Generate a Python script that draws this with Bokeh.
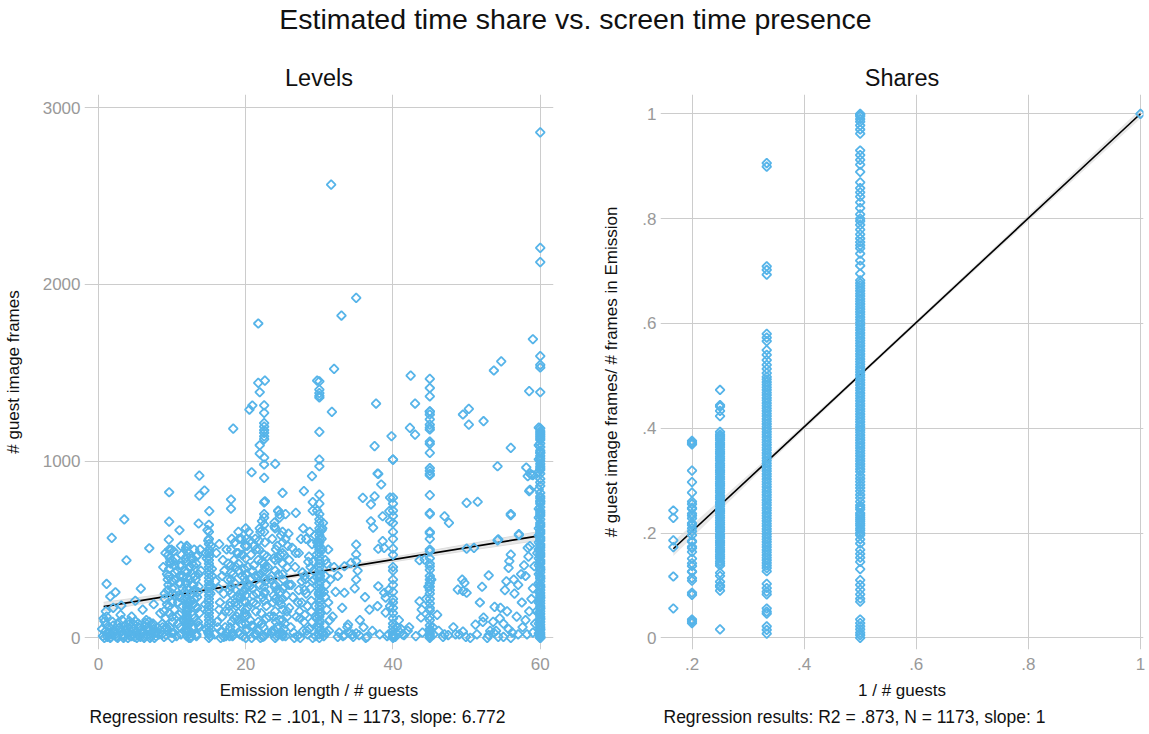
import math
from bokeh.plotting import figure
from bokeh.layouts import column, row
from bokeh.models import Div, FixedTicker, Title, Range1d, CustomJSTickFormatter
from bokeh.embed import file_html
from bokeh.resources import INLINE

# ---------------- data: Levels panel (x = emission length / # guests, y = # guest image frames)
lev_sparse_x = [60, 31.6, 60, 60, 35.0, 33.0, 21.7, 59.0, 60, 54.7, 60, 60, 53.7, 32.0, 42.4, 21.7, 22.6, 29.7, 58.5,
                20.5, 20.9, 21.9, 22.5, 22.5, 22.5, 22.5, 22.5, 22.5, 22.5, 22.5, 18.3, 21.9, 21.9, 22.5, 22.5, 24.0,
                20.8, 13.7, 22.5, 22.6, 30, 30, 30, 30, 30, 31.7, 30, 30, 30, 29.0, 30,
                37.7, 37.5, 38.0, 39.8, 40, 43.0, 42.3, 43.0, 49.5, 50.3, 50.3, 52.3, 54.2, 56.0, 58.1, 58.8, 58.3,
                58.6, 59.0, 58.6, 56.0, 51.5,
                9.6, 13.7, 14.4, 18.0, 18.0, 15.05, 3.5, 9.6, 13.6, 11.0, 1.8, 9.55, 6.9, 3.8, 1.1, 5.75, 1.6, 2.3,
                3.1, 1.0, 0.8,
                25.0, 27.9, 22.5, 26.8, 29.1, 29.1, 24.4, 23.9, 24.6,
                35.9, 37.5, 38.4, 37.9, 37.0, 37.0, 37.3, 38.6, 39.5, 39.6, 39.6, 35.0, 35.0, 35.0, 33.4, 34.3, 35.0,
                33.4, 38.6, 38.8, 38.0, 38.0, 38.8, 39.0, 39.4, 37.9, 39.0, 39.6, 33.9, 35.5, 35.0, 33.4, 32.5,
                47.0, 47.6, 50.0, 56.0, 58.5, 54.2, 57.1, 50.0, 51.0, 44.3, 43.6, 58.3, 56.0, 55.8, 55.7, 53.0, 52.1,
                48.8, 49.5, 50.0, 49.7, 49.4, 43.6, 43.9, 43.8, 51.2, 52.3, 53.2, 53.6, 54.6, 53.8, 54.5, 55.7, 47.0,
                48.5, 49.5, 49.9, 52.8, 53.7, 54.3, 55.0, 56.5, 57.0, 57.5, 58.0, 58.5, 59.0, 59.2, 57.1, 58.6, 54.3,
                56.8, 57.6, 58.2, 59.3, 56.2, 55.5, 56.4, 57.8, 58.8, 55.2, 40.5, 41.0, 41.5, 42.0, 40.8, 39.4, 41.1,
                31.3, 31.8, 32.2, 32.7, 33.1, 31.5, 32.0, 33.8, 31.2, 32.5, 34.5, 36.5, 36.0, 34.8, 35.2, 36.8, 36.2]
lev_sparse_y = [2861, 2565, 2207, 2126, 1924, 1824, 1779, 1690, 1594, 1565, 1545, 1530, 1513, 1522, 1484, 1443, 1456, 1456, 1396,
                1292, 1315, 1390, 1316, 1273, 1215, 1195, 1175, 1160, 1140, 1125, 1184, 1090, 1043, 1020, 981, 985,
                937, 918, 905, 773, 1452, 1405, 1385, 1370, 1360, 1279, 1166, 1009, 971, 915, 811,
                1326, 1085, 928, 1141, 1009, 1326, 1188, 1150, 1264, 1296, 1207, 1226, 971, 1075, 964, 924, 915,
                930, 920, 838, 701, 770,
                824, 805, 834, 783, 731, 717, 670, 658, 647, 609, 566, 556, 507, 439, 305, 279, 234, 258,
                183, 150, 94,
                820, 830, 767, 707, 768, 720, 717, 652, 698,
                792, 801, 868, 930, 755, 660, 624, 688, 717, 660, 794, 528, 472, 434, 405, 424, 330,
                255, 547, 509, 504, 292, 255, 228, 270, 179, 143, 179, 75, 100, 25, 15, 5,
                688, 651, 764, 694, 830, 552, 581, 505, 509, 443, 439, 509, 471, 434, 396, 353, 289,
                273, 265, 255, 311, 330, 207, 160, 115, 75, 115, 40, 90, 170, 175, 110, 50, 20,
                20, 35, 5, 0, 30, 5, 5, 250, 300, 200, 350, 150, 280, 405, 587, 519, 557,
                120, 60, 20, 80, 30, 150, 330, 410, 220, 270, 60, 30, 15, 40, 100, 20, 50,
                40, 120, 260, 30, 170, 330, 400, 60, 500, 350, 20, 5, 60, 280, 380, 160, 230]

lev_col60_y = [1185, 1170, 1160, 1150, 1140, 1130, 1100, 1080, 1060, 1045, 1030, 1015, 1000, 985, 970, 950, 930, 900,
               860, 820, 800, 790, 775, 760, 740, 720, 700, 690, 670, 650, 630, 610, 590, 570, 550, 530, 510, 495,
               480, 460, 440, 420, 400, 385, 370, 350, 335, 320, 300, 285, 270, 255, 240, 225, 210, 195, 180, 165,
               150, 135, 120, 105, 90, 75, 60, 45, 30, 20, 10, 5, 0, 1390]
lev_col60b_x = [59.8, 60.0] * 20
lev_col60b_y = [1190, 1120, 1090, 1050, 1010, 960, 940, 880, 840, 770, 730, 710, 680, 640, 620, 600, 580, 560, 540, 520,
                500, 470, 450, 430, 410, 390, 360, 340, 310, 290, 260, 230, 200, 170, 140, 110, 80, 50, 25, 0]
lev_col45_y = [1466, 1414, 1367, 1282, 1264, 1236, 1207, 1179, 1098, 1047, 945, 928, 808, 706, 593, 489, 405, 385,
               350, 310, 270, 250, 195, 155, 120, 70, 40, 15, 5, 0,
               1280, 1190, 1110, 960, 920, 700, 600, 560, 500, 450, 420, 330, 290, 220, 170, 100, 50, 25]
lev_col40_y = [1009, 794, 760, 720, 690, 650, 600, 560, 505, 470, 400, 380, 330, 300, 260, 220, 200, 170, 140,
               110, 80, 60, 40, 20, 10, 0]

lev_b0_x = [0.6, 0.9, 1.2, 1.5, 1.8, 2.1, 2.4, 2.7, 3.0, 3.3, 3.6, 3.9, 4.2, 4.5, 4.8, 5.1, 5.4, 5.7, 6.0, 6.3,
            6.6, 6.9, 7.2, 7.5, 7.8, 0.7, 1.0, 1.4, 1.9, 2.3, 2.8, 3.2, 3.7, 4.1, 4.6, 5.0, 5.5, 5.9, 6.4, 6.8,
            7.3, 7.7, 8.0, 1.6, 2.5, 3.4, 4.3, 5.2, 6.1, 7.0]
lev_b0_y = [10, 35, 5, 60, 20, 45, 8, 85, 30, 15, 70, 25, 95, 10, 50, 30, 80, 5, 40, 65,
            15, 90, 25, 50, 10, 110, 75, 30, 90, 20, 55, 100, 40, 75, 20, 95, 55, 25, 85, 45,
            70, 30, 55, 0, 5, 0, 10, 0, 8, 0]
lev_b1_x = [8.6, 8.9, 9.2, 9.5, 9.8, 10.1, 10.4, 10.7, 11.0, 11.3, 8.7, 9.0, 9.3, 9.6, 9.9, 10.2, 10.5, 10.8, 11.1, 11.4,
            8.8, 9.1, 9.4, 9.7, 10.0, 10.3, 10.6, 10.9, 11.2, 9.5, 9.6, 9.7, 9.5, 9.6, 9.4, 10.0, 10.0, 10.0, 10.0, 10.0,
            11.0, 11.0, 11.0, 8.9, 9.2]
lev_b1_y = [20, 150, 60, 300, 420, 90, 240, 380, 130, 470, 80, 220, 360, 180, 500, 30, 330, 200, 60, 280,
            400, 110, 40, 450, 250, 160, 10, 310, 520, 350, 390, 430, 470, 500, 270, 120, 200, 320, 440, 0,
            350, 410, 230, 5, 15]
lev_b2_x = [11.6, 11.9, 12.0, 12.0, 12.0, 12.0, 12.0, 12.0, 12.0, 12.0, 12.0, 12.0, 12.0, 12.0, 12.0, 12.3, 12.6, 12.9, 13.2, 13.5,
            11.7, 12.2, 12.5, 12.8, 13.1, 13.4, 13.7, 12.4, 12.7, 13.0, 13.3, 13.6, 11.8, 12.1, 12.4, 12.7, 13.0, 13.3, 13.6, 12.0,
            12.5, 13.0, 13.5, 11.9, 12.2, 12.6, 12.9, 13.3, 13.7, 12.8, 12.0, 12.0, 12.0, 12.0, 12.0, 12.0, 12.0, 12.0, 12.0, 12.0]
lev_b2_y = [40, 120, 10, 40, 70, 100, 130, 160, 190, 220, 250, 280, 310, 340, 370, 400, 450, 300, 180, 90,
            260, 480, 210, 60, 350, 230, 140, 330, 420, 500, 20, 290, 380, 150, 80, 250, 110, 420, 360, 430,
            0, 270, 470, 310, 200, 30, 190, 10, 60, 360, 460, 490, 520, 25, 55, 85, 115, 145, 175, 205]
lev_b3_x = [15.0] * 30 + [14.6, 14.8, 15.2, 15.4, 14.7, 14.9, 15.3, 14.5, 15.1, 15.4, 14.6, 15.2, 14.8, 15.3, 14.9]
lev_b3_y = [0, 20, 40, 60, 80, 100, 120, 140, 160, 180, 200, 220, 240, 260, 280, 300, 320, 340, 360, 380,
            400, 420, 440, 460, 480, 500, 530, 560, 600, 640, 50, 150, 250, 350, 450, 550, 90, 190, 290, 390,
            480, 10, 610, 520, 30]
lev_b4_x = [15.8, 16.1, 16.4, 16.7, 17.0, 17.3, 15.9, 16.2, 16.5, 16.8, 17.1, 17.4, 16.0, 16.3, 16.6, 16.9, 17.2, 16.4, 16.8, 17.0]
lev_b4_y = [20, 90, 160, 40, 250, 10, 320, 60, 200, 120, 380, 30, 480, 280, 0, 440, 150, 530, 350, 5]
lev_b5_x = [17.6, 17.9, 18.2, 18.5, 18.8, 19.1, 19.4, 19.7, 20.0, 20.3, 17.7, 18.0, 18.3, 18.6, 18.9, 19.2, 19.5, 19.8, 20.1, 20.4,
            17.8, 18.1, 18.4, 18.7, 19.0, 19.3, 19.6, 19.9, 20.2, 20.0, 20.0, 20.0, 20.0, 20.0, 20.0, 20.0, 20.0, 20.0, 20.0, 20.0,
            18.0, 18.0, 18.0, 18.0, 18.0, 19.0, 19.0, 19.0, 19.0, 19.0, 17.8, 18.5, 19.2, 19.8, 20.3, 18.3, 19.5, 20.1, 17.9, 18.8]
lev_b5_y = [420, 200, 30, 310, 120, 560, 80, 260, 0, 400, 150, 500, 360, 60, 230, 20, 470, 340, 130, 600,
            270, 90, 440, 180, 380, 290, 10, 520, 50, 40, 80, 120, 160, 200, 240, 280, 320, 360, 450, 620,
            250, 290, 330, 370, 410, 100, 140, 190, 420, 600, 10, 540, 250, 210, 300, 15, 350, 560, 60, 480]
lev_b6_x = [20.6, 20.9, 21.2, 21.5, 21.8, 22.1, 22.4, 22.7, 20.7, 21.0, 21.3, 21.6, 21.9, 22.2, 22.5, 22.8, 20.8, 21.1, 21.4, 21.7,
            22.0, 22.3, 22.6, 22.9, 22.5, 22.5, 22.5, 22.5, 22.5, 22.5, 22.5, 22.5, 22.5, 22.5, 22.5, 21.0, 21.5, 22.0, 20.9, 21.7,
            22.2, 21.3, 20.6, 22.8, 21.9]
lev_b6_y = [100, 380, 20, 250, 500, 140, 60, 320, 470, 200, 560, 40, 300, 430, 10, 180, 0, 520, 150, 90,
            360, 230, 540, 30, 600, 640, 680, 700, 470, 420, 380, 340, 290, 250, 210, 60, 20, 0, 280, 440,
            660, 350, 550, 110, 620]
lev_b7_x = [23.5, 23.8, 24.1, 24.4, 24.7, 25.0, 25.3, 25.6, 25.9, 23.6, 23.9, 24.2, 24.5, 24.8, 25.1, 25.4, 25.7, 23.7, 24.0, 24.3,
            24.6, 24.9, 25.2, 25.5, 25.8, 24.0, 24.0, 24.0, 24.0, 24.0, 25.0, 25.0, 25.0, 25.0, 25.0, 25.0, 25.0, 25.0, 24.0, 24.0,
            23.6, 24.6, 25.4, 25.9, 24.2, 25.2, 23.9, 24.8, 25.6, 24.4]
lev_b7_y = [350, 120, 500, 20, 260, 600, 80, 400, 170, 560, 290, 60, 450, 190, 330, 10, 520, 200, 380, 520,
            100, 30, 470, 240, 590, 150, 220, 300, 440, 620, 100, 160, 220, 280, 360, 420, 480, 540, 0, 40,
            40, 680, 700, 300, 10, 50, 630, 580, 120, 720]
lev_b8_x = [26.1, 26.4, 26.7, 27.0, 27.3, 27.6, 27.9, 28.2, 28.5, 26.2, 26.5, 26.8, 27.1, 27.4, 27.7, 28.0, 28.3, 26.3, 26.9, 27.5,
            28.1, 26.6, 27.2, 27.8, 28.4]
lev_b8_y = [60, 230, 400, 10, 150, 320, 90, 250, 430, 300, 30, 480, 200, 0, 370, 130, 40, 510, 120, 560,
            330, 0, 270, 620, 180]
lev_b9_x = [30.0] * 35 + [28.6, 28.9, 29.2, 29.5, 29.8, 30.2, 30.5, 30.8, 31.0, 28.7, 29.0, 29.3, 29.6, 29.9, 30.3, 30.6, 30.9,
                          28.8, 29.4, 30.4, 30.7, 29.1, 29.7, 30.1, 30.8]
lev_b9_y = [0, 20, 40, 60, 80, 100, 120, 140, 160, 180, 200, 220, 240, 260, 280, 300, 320, 340, 360, 380,
            400, 420, 440, 460, 480, 500, 520, 540, 560, 580, 600, 620, 650, 700, 760,
            50, 210, 380, 120, 520, 270, 30, 440, 160, 600, 90, 330, 470, 250, 560, 10, 300, 400, 180, 620,
            70, 0, 540, 350, 230]
lev_b10_x = [9.1, 9.4, 9.7, 10.0, 10.3, 10.6, 10.9, 11.2, 11.5, 11.8, 12.1, 12.4, 12.7, 13.0, 13.3, 13.6, 13.9, 9.3, 9.9, 10.5,
             11.1, 11.7, 12.3, 12.9, 13.5, 9.0, 9.6, 10.2, 10.8, 11.4, 12.0, 12.6, 13.2, 13.8, 11.3, 12.2, 12.8, 10.4, 11.9, 13.4]
lev_b10_y = [480, 330, 60, 280, 410, 120, 240, 20, 350, 450, 160, 90, 300, 220, 460, 70, 380, 190, 30, 450,
             310, 100, 0, 410, 260, 250, 140, 490, 80, 180, 150, 10, 330, 500, 410, 40, 130, 370, 510, 170]
lev_b11_x = [17.2, 17.5, 17.8, 18.1, 18.4, 18.7, 19.0, 19.3, 19.6, 19.9, 20.2, 20.5, 20.8, 21.1, 21.4, 21.7, 22.0, 22.3, 22.6, 22.9,
             23.2, 23.5, 23.8, 24.1, 24.4, 24.7, 25.0, 25.3, 25.6, 25.9, 17.4, 18.2, 19.0, 19.8, 20.6, 21.4, 22.2, 23.0, 23.8, 24.6,
             25.4, 18.6, 20.2, 21.8, 23.4, 25.0, 19.4, 21.0, 22.6, 24.2]
lev_b11_y = [60, 330, 180, 560, 110, 400, 30, 230, 470, 140, 520, 290, 70, 410, 190, 350, 600, 5, 260, 460,
             120, 30, 240, 90, 360, 470, 20, 290, 150, 440, 500, 10, 480, 390, 330, 500, 80, 400, 450, 210,
             560, 200, 170, 550, 330, 10, 560, 240, 400, 270]
lev_b12_x = [27.2, 27.6, 28.0, 28.4, 28.8, 29.2, 29.6, 30.0, 30.4, 30.8, 31.2, 27.4, 27.8, 28.2, 28.6, 29.0, 29.4, 29.8, 30.2, 30.6,
             31.0, 31.4, 28.0, 28.9, 29.5, 30.3, 30.9, 29.0, 29.7, 30.5]
lev_b12_y = [480, 200, 350, 20, 280, 430, 110, 670, 500, 350, 200, 110, 40, 560, 460, 320, 580, 60, 140, 260,
             420, 100, 270, 150, 10, 610, 30, 530, 720, 650]
lev_b13_x = [0.5, 0.8, 1.1, 1.3, 1.7, 2.0, 2.2, 2.6, 2.9, 3.1, 3.5, 3.8, 4.0, 4.4, 4.7, 4.9, 5.3, 5.6, 5.8, 6.2,
             6.5, 6.7, 7.1, 7.4, 7.6, 7.9, 8.2, 8.4, 8.7, 3.0, 4.5, 6.0, 7.5, 2.0, 5.0]
lev_b13_y = [50, 0, 120, 20, 5, 70, 30, 0, 60, 40, 10, 50, 0, 35, 80, 5, 15, 55, 30, 0,
             100, 60, 10, 80, 0, 30, 20, 140, 60, 130, 120, 160, 190, 170, 210]
lev_b14_x = [33.2, 34.0, 34.6, 35.4, 36.3, 37.2, 38.2, 39.2, 40.3, 41.3, 42.2, 43.1, 44.0, 45.5, 46.2, 46.8, 47.5, 48.2, 49.0, 50.5,
             51.4, 52.2, 53.0, 54.0, 55.0, 56.0, 57.0, 58.0, 59.0, 59.5, 44.5, 45.2, 45.4, 44.8, 46.0, 51.8, 55.4, 57.4, 58.4, 59.6]
lev_b14_y = [10, 30, 5, 15, 0, 40, 20, 10, 5, 20, 60, 10, 30, 20, 40, 5, 15, 60, 20, 0,
             20, 90, 15, 40, 80, 0, 20, 100, 30, 150, 220, 330, 60, 290, 130, 200, 320, 360, 460, 480]

lev_fit_x = [0.7, 60]
lev_fit_y = [176.7, 578.3]
lev_ci_x = [0.7, 10, 20, 30, 40, 50, 60]
lev_ci_lo = [153, 226, 297, 365, 430, 493, 553]
lev_ci_hi = [201, 254, 317, 385, 456, 529, 603]

# ---------------- data: Shares panel (x = 1 / # guests, y = share of frames)
sh_col6 = [0.243, 0.229, 0.186, 0.173, 0.117, 0.056]
sh_col5 = [0.376, 0.373, 0.369, 0.371, 0.319, 0.297, 0.277, 0.260, 0.255, 0.248, 0.246, 0.237, 0.233, 0.228, 0.219,
           0.215, 0.209, 0.203, 0.196, 0.185, 0.183, 0.174, 0.171, 0.164, 0.151, 0.142, 0.137, 0.127, 0.126, 0.114,
           0.109, 0.086, 0.082, 0.035, 0.032, 0.028]
sh_col4 = [0.473, 0.444, 0.441, 0.433, 0.423, 0.393, 0.388, 0.385, 0.381, 0.377, 0.372, 0.368, 0.364, 0.359, 0.355,
           0.351, 0.346, 0.342, 0.338, 0.333, 0.329, 0.325, 0.320, 0.316, 0.312, 0.307, 0.303, 0.298, 0.294, 0.290,
           0.285, 0.281, 0.277, 0.272, 0.268, 0.264, 0.259, 0.255, 0.251, 0.246, 0.242, 0.238, 0.233, 0.229, 0.224,
           0.220, 0.216, 0.211, 0.207, 0.203, 0.198, 0.194, 0.190, 0.185, 0.181, 0.177, 0.172, 0.168, 0.164, 0.159,
           0.155, 0.151, 0.146, 0.142, 0.138, 0.124, 0.118, 0.107, 0.100, 0.097, 0.090, 0.016]
sh_col3 = [0.906, 0.899, 0.709, 0.702, 0.693, 0.580, 0.573, 0.566, 0.549, 0.540, 0.530, 0.521, 0.513, 0.505, 0.498,
           0.493, 0.488, 0.483, 0.478, 0.473, 0.468, 0.463, 0.458, 0.453, 0.448, 0.443, 0.438, 0.433, 0.428, 0.423,
           0.418, 0.413, 0.408, 0.403, 0.398, 0.393, 0.388, 0.383, 0.378, 0.373, 0.368, 0.363, 0.358, 0.353, 0.348,
           0.343, 0.338, 0.333, 0.328, 0.323, 0.318, 0.313, 0.308, 0.303, 0.298, 0.293, 0.288, 0.283, 0.278, 0.273,
           0.268, 0.263, 0.258, 0.253, 0.248, 0.243, 0.238, 0.233, 0.228, 0.223, 0.218, 0.213, 0.208, 0.203, 0.198,
           0.193, 0.188, 0.183, 0.178, 0.173, 0.168, 0.163, 0.158, 0.153, 0.148, 0.143, 0.138, 0.133, 0.127, 0.103,
           0.095, 0.088, 0.083, 0.056, 0.050, 0.046, 0.022, 0.015, 0.008]
sh_col2 = [1.000, 0.998, 0.995, 0.990, 0.985, 0.978, 0.970, 0.962, 0.930, 0.921, 0.912, 0.903, 0.889, 0.869, 0.858,
           0.850, 0.842, 0.831, 0.820, 0.808, 0.800, 0.795, 0.788, 0.779, 0.770, 0.762, 0.755, 0.749, 0.743, 0.733,
           0.720, 0.710, 0.695, 0.682, 0.677, 0.672, 0.667, 0.662, 0.657, 0.652, 0.647, 0.642, 0.637, 0.632, 0.627,
           0.622, 0.617, 0.612, 0.607, 0.602, 0.597, 0.592, 0.587, 0.582, 0.577, 0.572, 0.567, 0.562, 0.557, 0.552,
           0.547, 0.542, 0.537, 0.532, 0.527, 0.522, 0.517, 0.512, 0.507, 0.502, 0.497, 0.492, 0.487, 0.482, 0.477,
           0.472, 0.467, 0.462, 0.457, 0.452, 0.447, 0.442, 0.437, 0.432, 0.427, 0.422, 0.417, 0.412, 0.407, 0.402,
           0.397, 0.392, 0.387, 0.382, 0.377, 0.372, 0.367, 0.362, 0.357, 0.352, 0.347, 0.342, 0.337, 0.332, 0.327,
           0.322, 0.317, 0.304, 0.292, 0.280, 0.267, 0.253, 0.245, 0.238, 0.230, 0.222, 0.214, 0.205, 0.196, 0.188,
           0.180, 0.168, 0.160, 0.153, 0.145, 0.131, 0.110, 0.101, 0.092, 0.083, 0.075, 0.069, 0.035, 0.028, 0.022,
           0.016, 0.010, 0.005, 0.000, 0.310, 0.298, 0.286, 0.273, 0.260, 0.249, 0.234, 0.226, 0.218, 0.209, 0.200]
sh_col1 = [1.0]
sh_levels = [0.1667, 0.2, 0.25, 0.3333, 0.5, 1.0]

sh_fit_x = [0.1667, 1.0]
sh_fit_y = [0.170, 1.0]
sh_ci_x = [0.1667, 0.3333, 0.5, 0.75, 1.0]
sh_ci_lo = [0.156, 0.330, 0.498, 0.746, 0.991]
sh_ci_hi = [0.184, 0.342, 0.506, 0.756, 1.009]

# ---------------- styling
FONT = "Liberation Sans"
BLUE = "#56b4e9"
GRID = "#cccccc"
TICKC = "#999999"

def assemble_levels():
    xs = list(lev_sparse_x) + [60] * len(lev_col60_y) + [45] * len(lev_col45_y) + [40] * len(lev_col40_y)
    ys = list(lev_sparse_y) + lev_col60_y + lev_col45_y + lev_col40_y
    for gx, gy in [(lev_col60b_x, lev_col60b_y), (lev_b0_x, lev_b0_y), (lev_b1_x, lev_b1_y), (lev_b2_x, lev_b2_y),
                   (lev_b3_x, lev_b3_y), (lev_b4_x, lev_b4_y), (lev_b5_x, lev_b5_y), (lev_b6_x, lev_b6_y),
                   (lev_b7_x, lev_b7_y), (lev_b8_x, lev_b8_y), (lev_b9_x, lev_b9_y), (lev_b10_x, lev_b10_y),
                   (lev_b11_x, lev_b11_y), (lev_b12_x, lev_b12_y), (lev_b13_x, lev_b13_y), (lev_b14_x, lev_b14_y)]:
        n = min(len(gx), len(gy))
        xs += gx[:n]
        ys += gy[:n]
    return xs, ys

def assemble_shares():
    xs, ys = [], []
    for lv, col in zip(sh_levels, [sh_col6, sh_col5, sh_col4, sh_col3, sh_col2, sh_col1]):
        xs += [lv] * len(col)
        ys += col
    return xs, ys

def style(p, xlabel, ylabel, note, ylab_standoff, note_offset):
    p.title.text_font = FONT
    p.title.text_font_size = "23.5px"
    p.title.text_font_style = "normal"
    p.title.text_color = "#111111"
    p.title.align = "center"
    p.title.standoff = 8
    p.xaxis.axis_label = xlabel
    p.yaxis.axis_label = ylabel
    for ax in p.axis:
        ax.axis_line_color = None
        ax.major_tick_line_color = None
        ax.minor_tick_line_color = None
        ax.major_tick_out = 0
        ax.major_tick_in = 0
        ax.major_label_text_font = FONT
        ax.major_label_text_font_size = "17px"
        ax.major_label_text_color = TICKC
        ax.axis_label_text_font = FONT
        ax.axis_label_text_font_size = "17px"
        ax.axis_label_text_font_style = "normal"
        ax.axis_label_text_color = "#111111"
    p.xaxis.major_label_standoff = 8
    p.xaxis.axis_label_standoff = 8
    p.yaxis.major_label_standoff = 4
    p.yaxis.axis_label_standoff = ylab_standoff
    p.grid.grid_line_color = GRID
    p.grid.grid_line_width = 1
    p.outline_line_color = None
    p.background_fill_color = "white"
    p.border_fill_color = "white"
    t = Title(text=note, align="left", offset=note_offset, text_font=FONT, text_font_size="17.5px",
              text_font_style="normal", text_color="#111111", standoff=5)
    p.add_layout(t, "below")

MARK = dict(marker="square", size=6.3, angle=math.pi / 4, fill_color=None, line_color=BLUE, line_width=1.8)

# ---------------- Levels (canvas x 8..580, plot frame 87..556)
p1 = figure(frame_width=469, frame_height=555, output_backend="svg", toolbar_location=None, title="Levels",
            x_range=Range1d(-1.9, 61.8), y_range=Range1d(-66, 3075),
            min_border_left=79, min_border_right=24, min_border_top=47, min_border_bottom=76)
lx, ly = assemble_levels()
p1.varea(x=lev_ci_x, y1=lev_ci_lo, y2=lev_ci_hi, fill_color="#d8d8d8", fill_alpha=0.6)
p1.line(lev_ci_x, lev_ci_lo, line_color="#dddddd", line_width=1)
p1.line(lev_ci_x, lev_ci_hi, line_color="#dddddd", line_width=1)
p1.line(lev_fit_x, lev_fit_y, line_color="black", line_width=1.6)
p1.scatter(lx, ly, **MARK)
p1.xaxis.ticker = FixedTicker(ticks=[0, 20, 40, 60])
p1.yaxis.ticker = FixedTicker(ticks=[0, 1000, 2000, 3000])
style(p1, "Emission length / # guests", "# guest image frames",
      "Regression results: R2 = .101, N  = 1173, slope: 6.772", 17, 5)

# ---------------- Shares (canvas x 580..1149, plot frame 663..1146)
p2 = figure(frame_width=483, frame_height=555, output_backend="svg", toolbar_location=None, title="Shares",
            x_range=Range1d(0.1438, 1.0054), y_range=Range1d(-0.0223, 1.0368),
            min_border_left=83, min_border_right=3, min_border_top=47, min_border_bottom=76)
sx, sy = assemble_shares()
p2.varea(x=sh_ci_x, y1=sh_ci_lo, y2=sh_ci_hi, fill_color="#d8d8d8", fill_alpha=0.6)
p2.line(sh_fit_x, sh_fit_y, line_color="black", line_width=1.6)
p2.scatter(sx, sy, **MARK)
p2.xaxis.ticker = FixedTicker(ticks=[0.2, 0.4, 0.6, 0.8, 1.0])
p2.yaxis.ticker = FixedTicker(ticks=[0, 0.2, 0.4, 0.6, 0.8, 1.0])
fmt = "if (Math.abs(tick) < 1e-9) {return '0';} if (Math.abs(tick - 1) < 1e-9) {return '1';} return tick.toFixed(1).replace(/^0/, '');"
p2.xaxis.formatter = CustomJSTickFormatter(code=fmt)
p2.yaxis.formatter = CustomJSTickFormatter(code=fmt)
style(p2, "1 / # guests", "# guest image frames/ # frames in Emission",
      "Regression results: R2 = .873, N = 1173, slope: 1", 18, 3)

head = Div(text="<div style=\"text-align:center;font-family:'Liberation Sans';font-size:28.5px;"
                "line-height:28px;color:#111111;width:1141px;\">Estimated time share vs. screen time presence</div>",
           width=1141, height=37)

layout = column(head, row(p1, p2))
open("out.html", "w").write(file_html(layout, INLINE))
